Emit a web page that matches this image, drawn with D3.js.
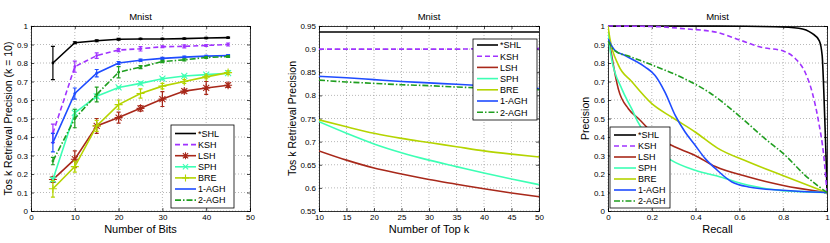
<!DOCTYPE html>
<html>
<head>
<meta charset="utf-8">
<script src="https://cdn.jsdelivr.net/npm/d3@7"></script>
<style>
  body { margin: 0; background: #fff; }
  text { font-family: "Liberation Sans", Arial, sans-serif; fill: #000; }
</style>
</head>
<body>
<div class="chart"></div>
<script>
// ---- shared legend info ----
var methods = ["*SHL", "KSH", "LSH", "SPH", "BRE", "1-AGH", "2-AGH"];
var colors = ["#000000", "#a033ff", "#a8281a", "#3dffb4", "#b4d400", "#1f4cff", "#1f9e1f"];
var dashes = [null, "5,3", null, null, null, null, "6,2,1.5,2"];
var markers = ["dot", "dot", "star", "cross", "plus", "dot", "dot"];

// ---- panel 1: precision vs number of bits (with error bars) ----
var bits = [5, 10, 15, 20, 25, 30, 35, 40, 45];
var shlBits = [0.80, 0.91, 0.92, 0.928, 0.930, 0.930, 0.932, 0.935, 0.937];
var kshBits = [0.42, 0.78, 0.84, 0.870, 0.877, 0.888, 0.890, 0.895, 0.900];
var lshBits = [0.17, 0.28, 0.46, 0.505, 0.555, 0.605, 0.648, 0.665, 0.680];
var sphBits = [0.17, 0.53, 0.62, 0.668, 0.690, 0.715, 0.730, 0.737, 0.745];
var breBits = [0.12, 0.24, 0.46, 0.575, 0.635, 0.675, 0.700, 0.725, 0.748];
var agh1Bits = [0.37, 0.635, 0.745, 0.800, 0.815, 0.825, 0.832, 0.837, 0.840];
var agh2Bits = [0.27, 0.50, 0.63, 0.750, 0.778, 0.808, 0.817, 0.830, 0.835];
// half widths of error bars
var shlErr = [0.09, 0.005, 0.005, 0.005, 0.003, 0.003, 0.003, 0.003, 0.003];
var kshErr = [0.05, 0.03, 0.015, 0.008, 0.012, 0.005, 0.008, 0.005, 0.008];
var lshErr = [0.015, 0.045, 0.04, 0.03, 0.015, 0.04, 0.01, 0.035, 0.012];
var sphErr = [0.01, 0.02, 0.01, 0.005, 0.008, 0.005, 0.005, 0.005, 0.005];
var breErr = [0.045, 0.03, 0.03, 0.025, 0.025, 0.015, 0.01, 0.01, 0.01];
var agh1Err = [0.05, 0.03, 0.02, 0.008, 0.006, 0.005, 0.005, 0.005, 0.005];
var agh2Err = [0.02, 0.05, 0.04, 0.03, 0.008, 0.006, 0.005, 0.005, 0.005];

// ---- panel 2: precision vs top k ----
var topK = [10, 15, 20, 25, 30, 35, 40, 45, 50];
var shlTop = [0.937, 0.937, 0.937, 0.937, 0.937, 0.937, 0.937, 0.937, 0.937];
var kshTop = [0.900, 0.900, 0.900, 0.900, 0.900, 0.900, 0.901, 0.901, 0.901];
var lshTop = [0.680, 0.660, 0.643, 0.630, 0.618, 0.608, 0.598, 0.589, 0.581];
var sphTop = [0.743, 0.718, 0.695, 0.676, 0.660, 0.646, 0.632, 0.619, 0.607];
var breTop = [0.747, 0.732, 0.718, 0.707, 0.698, 0.689, 0.680, 0.673, 0.667];
var agh1Top = [0.841, 0.838, 0.834, 0.830, 0.827, 0.824, 0.821, 0.818, 0.815];
var agh2Top = [0.833, 0.829, 0.826, 0.823, 0.821, 0.818, 0.816, 0.814, 0.812];

// ---- panel 3: precision-recall curves, [recall, precision] ----
var shlPR = [[0, 1], [0.5, 1], [0.764, 0.996], [0.871, 0.988], [0.932, 0.96], [0.965, 0.92],
  [0.978, 0.84], [0.985, 0.66], [0.993, 0.39], [0.998, 0.2], [1, 0.1]];
var kshPR = [[0, 1], [0.215, 0.997], [0.35, 0.985], [0.5, 0.965], [0.6, 0.925], [0.7, 0.885],
  [0.8, 0.865], [0.856, 0.823], [0.9, 0.75], [0.932, 0.643], [0.962, 0.48], [0.985, 0.3], [1, 0.1]];
var lshPR = [[0, 0.98], [0.006, 0.92], [0.017, 0.84], [0.047, 0.66], [0.093, 0.553], [0.139, 0.5],
  [0.215, 0.41], [0.29, 0.355], [0.398, 0.3], [0.49, 0.24], [0.642, 0.184], [0.795, 0.139], [1, 0.1]];
var sphPR = [[0, 0.97], [0.006, 0.9], [0.017, 0.82], [0.063, 0.66], [0.108, 0.553], [0.137, 0.48],
  [0.2, 0.37], [0.24, 0.315], [0.29, 0.274], [0.398, 0.22], [0.513, 0.184], [0.642, 0.139],
  [0.795, 0.11], [1, 0.1]];
var brePR = [[0, 1], [0.009, 0.93], [0.047, 0.79], [0.108, 0.7], [0.2, 0.58], [0.29, 0.508],
  [0.398, 0.427], [0.5, 0.34], [0.642, 0.265], [0.795, 0.193], [1, 0.1]];
var agh1PR = [[0, 0.93], [0.03, 0.87], [0.078, 0.84], [0.17, 0.778], [0.215, 0.733], [0.26, 0.643],
  [0.307, 0.517], [0.352, 0.427], [0.398, 0.355], [0.444, 0.283], [0.49, 0.23], [0.566, 0.157],
  [0.642, 0.13], [0.795, 0.112], [1, 0.1]];
var agh2PR = [[0, 0.92], [0.032, 0.865], [0.1, 0.835], [0.2, 0.79], [0.34, 0.72], [0.466, 0.638],
  [0.596, 0.517], [0.718, 0.39], [0.81, 0.3], [0.9, 0.193], [1, 0.1]];

var svg = d3.select(".chart").append("svg")
  .attr("width", 830)
  .attr("height", 243);

// draws the box, grid, inward ticks, labels and title of one panel
function makeAxes(o) {
  var x = d3.scaleLinear().domain(o.xDomain).range([o.left, o.right]);
  var y = d3.scaleLinear().domain(o.yDomain).range([o.bottom, o.top]);
  var g = svg.append("g");

  // dotted grid
  g.selectAll(".gx").data(o.xTicks).enter().append("line")
    .attr("x1", d => x(d)).attr("x2", d => x(d))
    .attr("y1", o.top).attr("y2", o.bottom)
    .attr("stroke", "#888").attr("stroke-width", 0.6).attr("stroke-dasharray", "1,2");
  g.selectAll(".gy").data(o.yTicks).enter().append("line")
    .attr("y1", d => y(d)).attr("y2", d => y(d))
    .attr("x1", o.left).attr("x2", o.right)
    .attr("stroke", "#888").attr("stroke-width", 0.6).attr("stroke-dasharray", "1,2");

  // axes (inward ticks on all sides)
  var fmt = o.fmt || (d => d3.format("~g")(d));
  g.append("g").attr("transform", `translate(0,${o.bottom})`)
    .call(d3.axisBottom(x).tickValues(o.xTicks).tickSize(-3).tickPadding(3).tickFormat(fmt));
  g.append("g").attr("transform", `translate(0,${o.top})`)
    .call(d3.axisTop(x).tickValues(o.xTicks).tickSize(-3).tickFormat(""));
  g.append("g").attr("transform", `translate(${o.left},0)`)
    .call(d3.axisLeft(y).tickValues(o.yTicks).tickSize(-3).tickPadding(3).tickFormat(fmt));
  g.append("g").attr("transform", `translate(${o.right},0)`)
    .call(d3.axisRight(y).tickValues(o.yTicks).tickSize(-3).tickFormat(""));
  g.selectAll(".domain").attr("stroke", "#000").attr("stroke-width", 0.8);
  g.selectAll(".tick line").attr("stroke", "#000").attr("stroke-width", 0.7);
  g.selectAll(".tick text").style("font-size", "8px").attr("fill", "#000")
    .style("font-family", "'Liberation Sans', Arial, sans-serif");

  // title and labels
  g.append("text")
    .attr("x", (o.left + o.right) / 2).attr("y", 20)
    .attr("text-anchor", "middle").style("font-size", "9.5px")
    .text("Mnist");
  g.append("text")
    .attr("x", (o.left + o.right) / 2).attr("y", 233)
    .attr("text-anchor", "middle").style("font-size", "11px")
    .text(o.xLabel);
  g.append("text")
    .attr("transform", `translate(${o.yLabelX}, ${(o.top + o.bottom) / 2}) rotate(-90)`)
    .attr("text-anchor", "middle").style("font-size", "10.5px")
    .text(o.yLabel);

  return { x: x, y: y };
}

function clip(id, o) {
  svg.append("clipPath").attr("id", id).append("rect")
    .attr("x", o.left).attr("y", o.top - 1)
    .attr("width", o.right - o.left).attr("height", o.bottom - o.top + 2);
  return svg.append("g").attr("clip-path", `url(#${id})`);
}

function drawMarker(g, type, cx, cy, color, s) {
  if (type == "dot") {
    g.append("circle").attr("cx", cx).attr("cy", cy).attr("r", 1.4).attr("fill", color);
  } else if (type == "plus") {
    g.append("path").attr("d", `M${cx - s},${cy}H${cx + s}M${cx},${cy - s}V${cy + s}`)
      .attr("stroke", color).attr("stroke-width", 1.1).attr("fill", "none");
  } else if (type == "cross") {
    var c = s * 0.75;
    g.append("path").attr("d", `M${cx - c},${cy - c}L${cx + c},${cy + c}M${cx - c},${cy + c}L${cx + c},${cy - c}`)
      .attr("stroke", color).attr("stroke-width", 1.1).attr("fill", "none");
  } else if (type == "star") {
    var c2 = s * 0.75;
    g.append("path").attr("d", `M${cx - s},${cy}H${cx + s}M${cx},${cy - s}V${cy + s}` +
        `M${cx - c2},${cy - c2}L${cx + c2},${cy + c2}M${cx - c2},${cy + c2}L${cx + c2},${cy - c2}`)
      .attr("stroke", color).attr("stroke-width", 1.1).attr("fill", "none");
  }
}

function drawLegend(o) {
  var lg = svg.append("g");
  lg.append("rect")
    .attr("x", o.x).attr("y", o.y).attr("width", o.w).attr("height", o.h)
    .attr("fill", "#fff").attr("stroke", "#000").attr("stroke-width", 0.8);
  methods.forEach(function (m, i) {
    var yy = o.y + o.first + i * o.step;
    lg.append("line")
      .attr("x1", o.x + 4).attr("x2", o.x + 4 + o.lineLen)
      .attr("y1", yy).attr("y2", yy)
      .attr("stroke", colors[i]).attr("stroke-width", 1.6)
      .attr("stroke-dasharray", dashes[i]);
    if (o.markers && markers[i] != "dot") {
      drawMarker(lg, markers[i], o.x + 4 + o.lineLen / 2, yy, colors[i], 3.5);
    }
    lg.append("text")
      .attr("x", o.x + 6 + o.lineLen).attr("y", yy + 3.3)
      .style("font-size", "9px")
      .text(m);
  });
}

// ================= Panel 1 =================
var p1 = { left: 31, right: 250, top: 26, bottom: 211,
  xDomain: [0, 50], yDomain: [0, 1],
  xTicks: d3.range(0, 51, 10), yTicks: d3.range(0, 1.01, 0.1),
  xLabel: "Number of Bits", yLabel: "Tos k Retrieval Precision (k = 10)", yLabelX: 12 };
var s1 = makeAxes(p1);
var g1 = clip("c1", p1);
var bitsSeries = [shlBits, kshBits, lshBits, sphBits, breBits, agh1Bits, agh2Bits];
var bitsErrs = [shlErr, kshErr, lshErr, sphErr, breErr, agh1Err, agh2Err];
var line1 = d3.line().x(d => s1.x(d[0])).y(d => s1.y(d[1]));

bitsSeries.forEach(function (vals, i) {
  var pts = bits.map((b, j) => [b, vals[j]]);
  g1.append("path").datum(pts)
    .attr("d", line1)
    .attr("fill", "none")
    .attr("stroke", colors[i])
    .attr("stroke-width", 1.6)
    .attr("stroke-dasharray", dashes[i]);
  // error bars
  pts.forEach(function (p, j) {
    var e = bitsErrs[i][j];
    var xx = s1.x(p[0]), y0 = s1.y(p[1] - e), y1 = s1.y(p[1] + e);
    g1.append("path")
      .attr("d", `M${xx},${y0}V${y1}M${xx - 2},${y0}H${xx + 2}M${xx - 2},${y1}H${xx + 2}`)
      .attr("stroke", colors[i]).attr("stroke-width", 1.2).attr("fill", "none");
    drawMarker(g1, markers[i], xx, s1.y(p[1]), colors[i], 4);
  });
});
drawLegend({ x: 171, y: 125, w: 63, h: 83, first: 8.5, step: 11.1, lineLen: 21, markers: true });

// ================= Panel 2 =================
var p2 = { left: 319, right: 539, top: 26, bottom: 211,
  xDomain: [10, 50], yDomain: [0.55, 0.95],
  xTicks: d3.range(10, 51, 5), yTicks: [0.55, 0.6, 0.65, 0.7, 0.75, 0.8, 0.85, 0.9, 0.95],
  xLabel: "Number of Top k", yLabel: "Tos k Retrieval Precision", yLabelX: 296 };
var s2 = makeAxes(p2);
var g2 = clip("c2", p2);
var topSeries = [shlTop, kshTop, lshTop, sphTop, breTop, agh1Top, agh2Top];
var line2 = d3.line().curve(d3.curveMonotoneX).x(d => s2.x(d[0])).y(d => s2.y(d[1]));
topSeries.forEach(function (vals, i) {
  g2.append("path").datum(topK.map((k, j) => [k, vals[j]]))
    .attr("d", line2)
    .attr("fill", "none")
    .attr("stroke", colors[i])
    .attr("stroke-width", 1.6)
    .attr("stroke-dasharray", dashes[i]);
});
drawLegend({ x: 473, y: 39, w: 64, h: 81, first: 6, step: 11.2, lineLen: 21, markers: false });

// ================= Panel 3 =================
var p3 = { left: 608, right: 827, top: 26, bottom: 211,
  xDomain: [0, 1], yDomain: [0, 1],
  xTicks: [0, 0.2, 0.4, 0.6, 0.8, 1], yTicks: d3.range(0, 1.01, 0.1),
  xLabel: "Recall", yLabel: "Precision", yLabelX: 589 };
var s3 = makeAxes(p3);
var g3 = clip("c3", p3);
var prSeries = [shlPR, kshPR, lshPR, sphPR, brePR, agh1PR, agh2PR];
var line3 = d3.line().curve(d3.curveMonotoneX).x(d => s3.x(d[0])).y(d => s3.y(d[1]));
prSeries.forEach(function (pts, i) {
  g3.append("path").datum(pts)
    .attr("d", line3)
    .attr("fill", "none")
    .attr("stroke", colors[i])
    .attr("stroke-width", 1.6)
    .attr("stroke-dasharray", dashes[i]);
});
drawLegend({ x: 610, y: 127, w: 60, h: 81, first: 8, step: 11, lineLen: 22, markers: false });
</script>
</body>
</html>
